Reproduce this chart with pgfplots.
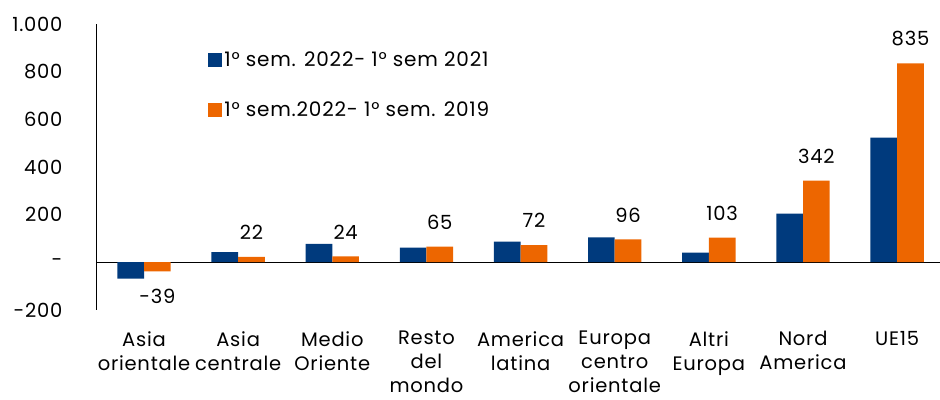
\documentclass[border=0pt]{standalone}
\usepackage{fontspec}
\setmainfont{Poppins}[LetterSpace=4]
\usepackage{pgfplots}
\pgfplotsset{compat=1.18}
\definecolor{cblue}{RGB}{0,58,125}
\definecolor{corange}{RGB}{237,102,0}
\begin{document}
\begin{tikzpicture}
\begin{axis}[
  at={(0,0)}, anchor=south west,
  scale only axis, width=843pt, height=286pt,
  xmin=-0.5, xmax=8.45, ymin=-200, ymax=1000,
  ybar=0pt, bar width=26.7pt,
  axis x line*=bottom, axis y line*=left,
  x axis line style={draw=none},
  y axis line style={black, line width=1pt},
  ytick={-200,0,200,400,600,800,1000},
  yticklabels={-200,-\hspace{13pt},200,400,600,800,1.000},
  xtick={0,...,8},
  xticklabels={Asia\\orientale, Asia\\centrale, Medio\\Oriente, Resto\\del\\mondo, America\\latina, Europa\\centro\\orientale, Altri\\Europa, Nord\\America, UE15},
  major tick length=0pt,
  tick label style={font=\fontsize{19.5}{24}\selectfont, text=black},
  xticklabel style={align=center, anchor=north, yshift=-18pt},
  yticklabel style={anchor=east, xshift=-31pt},
  extra y ticks={0}, extra y tick labels={},
  extra y tick style={grid=major, major grid style={black, line width=1pt}},
  /pgf/number format/assume math mode=true,
  legend style={draw=none, fill=none, at={(0.132,0.91)}, anchor=north west,
    font=\fontsize{20}{24}\selectfont, row sep=30pt, inner sep=0pt},
  legend cell align=left,
  legend image code/.code={\fill[#1] (0pt,-7pt) rectangle (14pt,7pt);},
]
\addplot[fill=cblue, draw=none] coordinates {
  (0,-69) (1,42) (2,77) (3,61) (4,86) (5,104) (6,40) (7,204) (8,523)};
\addlegendentry{1° sem. 2022- 1° sem 2021}
\addplot[fill=corange, draw=none,
  nodes near coords, nodes near coords align={vertical},
  every node near coord/.append style={font=\fontsize{19.5}{24}\selectfont, text=black, inner ysep=17pt, inner xsep=0pt}] coordinates {
  (0,-39) (1,22) (2,24) (3,65) (4,72) (5,96) (6,103) (7,342) (8,835)};
\addlegendentry{1° sem.2022- 1° sem. 2019}
\end{axis}
\path (current axis.south west) ++(-97pt,-90pt) rectangle ++(940pt,400pt);
\end{tikzpicture}
\end{document}
